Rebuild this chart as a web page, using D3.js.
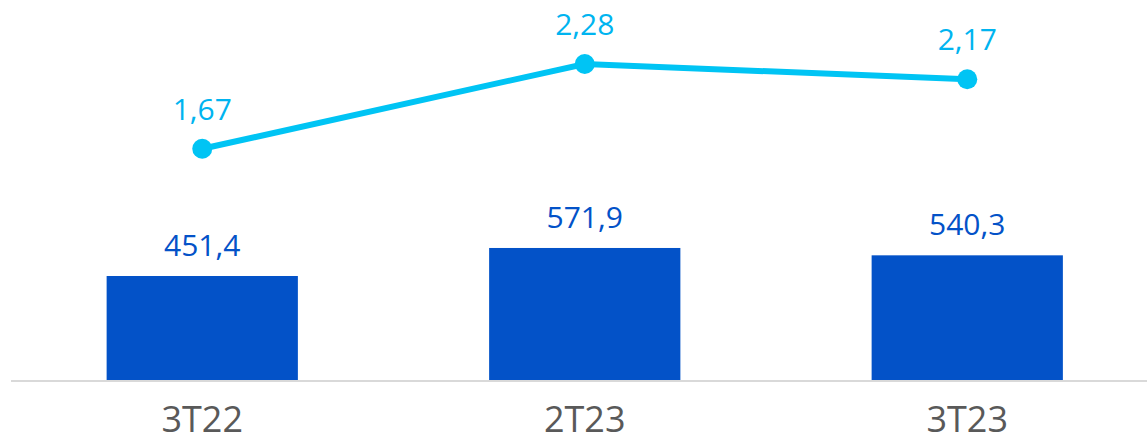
<!DOCTYPE html>
<html>
<head>
<meta charset="utf-8">
<script src="https://cdn.jsdelivr.net/npm/d3@7"></script>
<style>
  body { margin: 0; background: #fff; }
  text { font-family: "Open Sans", "Noto Sans", sans-serif; }
</style>
</head>
<body>
<div class="chart"></div>
<script>
var categories = ["3T22", "2T23", "3T23"];
var barValues = [451.4, 571.9, 540.3];
var lineValues = [1.67, 2.28, 2.17];

var svgWidth = 1147;
var svgHeight = 446;
var baseline = 381;

var svg = d3.select(".chart")
  .append("svg")
  .attr("width", svgWidth)
  .attr("height", svgHeight);

var x = d3.scaleBand()
  .domain(categories)
  .range([11, 1158.5])
  .paddingInner(0.5)
  .paddingOuter(0.25);

// both series start from zero at the baseline
var yBar = d3.scaleLinear().domain([0, 1638]).range([baseline, 0]);
var yLine = d3.scaleLinear().domain([0, 2.74]).range([baseline, 0]);

var fmt = function(v, d) { return v.toFixed(d).replace(".", ","); };

// bars
svg.selectAll("rect.bar")
  .data(barValues)
  .enter()
  .append("rect")
  .attr("class", "bar")
  .attr("x", (d, i) => x(categories[i]))
  .attr("y", d => yBar(d))
  .attr("width", x.bandwidth())
  .attr("height", d => baseline - yBar(d))
  .attr("fill", "#0352C8");

svg.selectAll("text.barLabel")
  .data(barValues)
  .enter()
  .append("text")
  .attr("class", "barLabel")
  .attr("x", (d, i) => x(categories[i]) + x.bandwidth() / 2)
  .attr("y", d => yBar(d) - 20)
  .attr("text-anchor", "middle")
  .attr("font-size", 30)
  .attr("fill", "#0352C8")
  .text(d => fmt(d, 1));

// baseline axis
var xAxis = d3.axisBottom(x).tickSize(0).tickPadding(25);
var axisG = svg.append("g")
  .attr("transform", `translate(0, ${baseline})`)
  .call(xAxis);
axisG.select(".domain")
  .attr("d", "M11,0H1147")
  .attr("stroke", "#d9d9d9")
  .attr("stroke-width", 2);
axisG.selectAll("text")
  .attr("dy", "0.71em")
  .attr("font-size", 36)
  .attr("fill", "#595959")
  .attr("font-family", "'Open Sans', sans-serif");

// line
var cx = (d, i) => x(categories[i]) + x.bandwidth() / 2;
var line = d3.line()
  .x(cx)
  .y(d => yLine(d));

svg.append("path")
  .datum(lineValues)
  .attr("d", line)
  .attr("fill", "none")
  .attr("stroke", "#00C4F4")
  .attr("stroke-width", 6);

svg.selectAll("circle")
  .data(lineValues)
  .enter()
  .append("circle")
  .attr("cx", cx)
  .attr("cy", d => yLine(d))
  .attr("r", 10)
  .attr("fill", "#00C4F4");

svg.selectAll("text.lineLabel")
  .data(lineValues)
  .enter()
  .append("text")
  .attr("class", "lineLabel")
  .attr("x", cx)
  .attr("y", d => yLine(d) - 29)
  .attr("text-anchor", "middle")
  .attr("font-size", 30)
  .attr("fill", "#00B4F0")
  .text(d => fmt(d, 2));
</script>
</body>
</html>
